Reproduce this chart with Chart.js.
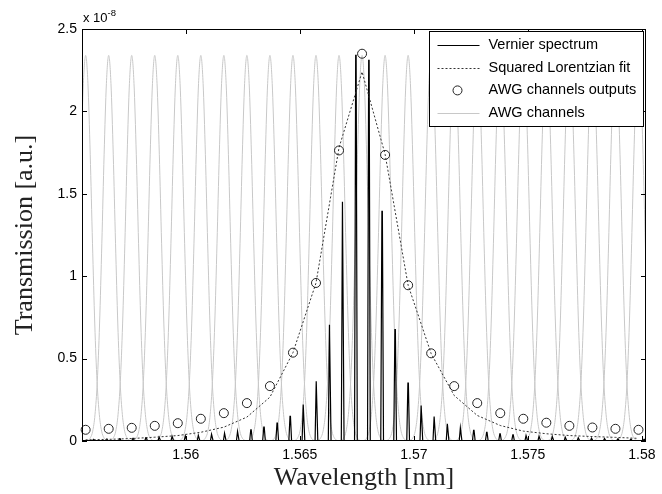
<!DOCTYPE html>
<html>
<head>
<meta charset="utf-8">
<script src="https://cdn.jsdelivr.net/npm/chart.js@4.4.1/dist/chart.umd.min.js"></script>
<style>
  html, body { margin: 0; padding: 0; background: #fff; }
</style>
</head>
<body>
<canvas id="chart" width="662" height="494"></canvas>
<script>
// valeurs (transmission en unités de 1e-8)
const xTicks = [1.56, 1.565, 1.57, 1.575, 1.58];
const yTicks = [0, 0.5, 1, 1.5, 2, 2.5];
const xMin = 1.55545;
const xMax = 1.58018;

// centres des canaux AWG [nm]
const awgCentres = [1.55561, 1.55662, 1.55763, 1.55864, 1.55965, 1.56066, 1.56167, 1.56268,
  1.56369, 1.56470, 1.56571, 1.56672, 1.56773, 1.56874, 1.56975, 1.57076, 1.57177, 1.57278,
  1.57379, 1.57480, 1.57581, 1.57682, 1.57783, 1.57884, 1.57985];
// sorties des canaux (cercles)
const awgOutputs = [0.068, 0.074, 0.080, 0.092, 0.108, 0.135, 0.169, 0.230, 0.333, 0.536,
  0.959, 1.763, 2.350, 1.736, 0.945, 0.532, 0.333, 0.230, 0.169, 0.135, 0.111, 0.092,
  0.082, 0.074, 0.068];
// fit lorentzien au carré, aux mêmes longueurs d'onde
const fitValues = [0.007, 0.010, 0.015, 0.023, 0.033, 0.053, 0.084, 0.145, 0.266, 0.536,
  0.959, 1.78, 2.24, 1.74, 0.945, 0.530, 0.276, 0.155, 0.094, 0.060, 0.044, 0.033,
  0.027, 0.022, 0.016];

// forme d'un canal AWG (écart au centre [nm] -> transmission)
const awgProfileOffsets = [-0.0011, -0.0009, -0.0008, -0.0007, -0.0006, -0.0005, -0.0004, -0.0003,
  -0.0002, -0.0001, 0, 0.0001, 0.0002, 0.0003, 0.0004, 0.0005, 0.0006, 0.0007, 0.0008, 0.0009, 0.0011];
const awgProfileValues = [0, 0.005, 0.02, 0.06, 0.16, 0.36, 0.71, 1.20, 1.74, 2.17, 2.34,
  2.17, 1.74, 1.20, 0.71, 0.36, 0.16, 0.06, 0.02, 0.005, 0];

// pics du spectre Vernier
const vernierPeaks = [1.55596, 1.55654, 1.55711, 1.55769, 1.55826, 1.55884, 1.55941, 1.55999,
  1.56056, 1.56114, 1.56171, 1.56228, 1.56286, 1.56343, 1.56401, 1.56458, 1.56516, 1.56573,
  1.56631, 1.56688, 1.56746, 1.56803, 1.56861, 1.56918, 1.56975, 1.57033, 1.57090, 1.57148,
  1.57205, 1.57263, 1.57320, 1.57378, 1.57435, 1.57493, 1.57550, 1.57608, 1.57665, 1.57722,
  1.57780, 1.57837, 1.57895, 1.57952, 1.58010];
const vernierHeights = [0.010, 0.012, 0.014, 0.016, 0.020, 0.024, 0.028, 0.031, 0.035, 0.041,
  0.047, 0.058, 0.068, 0.084, 0.108, 0.149, 0.222, 0.363, 0.706, 1.451, 2.34, 2.31, 1.394,
  0.676, 0.351, 0.216, 0.149, 0.104, 0.080, 0.064, 0.052, 0.044, 0.037, 0.033, 0.029, 0.027,
  0.023, 0.020, 0.017, 0.015, 0.013, 0.011, 0.010];

const sansFont = '"Liberation Sans", Arial, sans-serif';
const serifFont = '"Liberation Serif", "Times New Roman", serif';

// construction des séries
const spikeHalf = 0.00006;
const spikeTop = 0.00001;
const vernierData = [{ x: xMin, y: 0 }];
vernierPeaks.forEach((p, i) => {
  vernierData.push({ x: p - spikeHalf, y: 0 });
  vernierData.push({ x: p - spikeTop, y: vernierHeights[i] });
  vernierData.push({ x: p + spikeTop, y: vernierHeights[i] });
  vernierData.push({ x: p + spikeHalf, y: 0 });
});
vernierData.push({ x: xMax, y: 0 });

const fitData = awgCentres.map((c, i) => ({ x: c, y: fitValues[i] }));
const outputData = awgCentres.map((c, i) => ({ x: c, y: awgOutputs[i] }));

const awgDatasets = awgCentres.map(c => ({
  label: 'AWG channels',
  data: awgProfileOffsets.map((o, j) => ({ x: c + o, y: awgProfileValues[j] })),
  showLine: true,
  cubicInterpolationMode: 'monotone',
  borderColor: '#c8c8c8',
  borderWidth: 1,
  pointRadius: 0,
  order: 10
}));

const datasets = [
  {
    label: 'Vernier spectrum',
    data: vernierData,
    showLine: true,
    borderColor: '#000',
    borderWidth: 1.2,
    pointRadius: 0,
    order: 3
  },
  {
    label: 'Squared Lorentzian fit',
    data: fitData,
    showLine: true,
    borderColor: '#333',
    borderWidth: 1,
    borderDash: [2, 2],
    pointRadius: 0,
    order: 2
  },
  {
    label: 'AWG channels outputs',
    data: outputData,
    showLine: false,
    pointRadius: 4.5,
    pointBorderWidth: 1,
    pointBorderColor: '#222',
    pointBackgroundColor: 'rgba(0,0,0,0)',
    clip: 8,
    order: 1
  },
  ...awgDatasets
];

// cadre, graduations intérieures, légende et facteur d'échelle
const decorPlugin = {
  id: 'decor',
  afterDatasetsDraw(chart) {
    const { ctx, chartArea: a, scales: { x, y } } = chart;
    ctx.save();
    ctx.strokeStyle = '#000';
    ctx.lineWidth = 1;
    ctx.strokeRect(a.left + 0.5, a.top + 0.5, a.width - 1, a.height - 1);
    ctx.beginPath();
    xTicks.forEach(v => {
      const px = Math.round(x.getPixelForValue(v)) + 0.5;
      ctx.moveTo(px, a.bottom); ctx.lineTo(px, a.bottom - 5);
      ctx.moveTo(px, a.top); ctx.lineTo(px, a.top + 5);
    });
    yTicks.forEach(v => {
      const py = Math.round(y.getPixelForValue(v)) + 0.5;
      ctx.moveTo(a.left, py); ctx.lineTo(a.left + 5, py);
      ctx.moveTo(a.right, py); ctx.lineTo(a.right - 5, py);
    });
    ctx.stroke();

    // x 10^-8
    ctx.fillStyle = '#000';
    ctx.textBaseline = 'alphabetic';
    ctx.textAlign = 'left';
    ctx.font = '13px ' + sansFont;
    ctx.fillText('x 10', a.left + 1, a.top - 7);
    const w = ctx.measureText('x 10').width;
    ctx.font = '9.5px ' + sansFont;
    ctx.fillText('-8', a.left + 1 + w, a.top - 13);

    // légende
    const bx = a.right - 216.5, by = a.top + 2.5, bw = 214, bh = 95;
    ctx.fillStyle = '#fff';
    ctx.fillRect(bx, by, bw, bh);
    ctx.strokeStyle = '#000';
    ctx.strokeRect(bx, by, bw, bh);
    const rows = [
      { ds: datasets[0], kind: 'line' },
      { ds: datasets[1], kind: 'line' },
      { ds: datasets[2], kind: 'point' },
      { ds: awgDatasets[0], kind: 'line' }
    ];
    ctx.font = '14.5px ' + sansFont;
    ctx.textBaseline = 'middle';
    rows.forEach((r, i) => {
      const ry = by + 13.5 + i * 22.7;
      if (r.kind === 'line') {
        ctx.save();
        ctx.strokeStyle = r.ds.borderColor;
        ctx.lineWidth = r.ds.borderWidth;
        ctx.setLineDash(r.ds.borderDash || []);
        ctx.beginPath();
        ctx.moveTo(bx + 8, Math.round(ry) + 0.5);
        ctx.lineTo(bx + 50, Math.round(ry) + 0.5);
        ctx.stroke();
        ctx.restore();
      } else {
        ctx.beginPath();
        ctx.strokeStyle = r.ds.pointBorderColor;
        ctx.arc(bx + 28, ry, r.ds.pointRadius, 0, Math.PI * 2);
        ctx.stroke();
      }
      ctx.fillStyle = '#000';
      ctx.fillText(r.ds.label, bx + 59, ry);
    });
    ctx.restore();
  }
};

new Chart(document.getElementById('chart'), {
  type: 'scatter',
  data: { datasets },
  options: {
    responsive: false,
    animation: false,
    devicePixelRatio: 1,
    layout: { padding: { top: 29, right: 16, left: 0, bottom: 0 } },
    plugins: {
      legend: { display: false },
      tooltip: { enabled: false }
    },
    scales: {
      x: {
        type: 'linear',
        min: xMin,
        max: xMax,
        afterBuildTicks: s => { s.ticks = xTicks.map(v => ({ value: v })); },
        afterFit: s => { s.height = 53; },
        grid: { display: false, drawTicks: false },
        border: { display: false },
        ticks: {
          padding: 6,
          color: '#000',
          maxRotation: 0,
          font: { family: sansFont, size: 14 },
          callback: v => String(v)
        },
        title: {
          display: true,
          text: 'Wavelength [nm]',
          color: '#222',
          font: { family: serifFont, size: 26 },
          padding: { top: 0, bottom: 0 }
        }
      },
      y: {
        type: 'linear',
        min: 0,
        max: 2.5,
        afterBuildTicks: s => { s.ticks = yTicks.map(v => ({ value: v })); },
        afterFit: s => { s.width = 82; },
        grid: { display: false, drawTicks: false },
        border: { display: false },
        ticks: {
          padding: 5,
          color: '#000',
          font: { family: sansFont, size: 14 },
          callback: v => String(v)
        },
        title: {
          display: true,
          text: 'Transmission [a.u.]',
          color: '#222',
          font: { family: serifFont, size: 26 },
          padding: { top: 10, bottom: 0 }
        }
      }
    }
  },
  plugins: [decorPlugin]
});
</script>
</body>
</html>
